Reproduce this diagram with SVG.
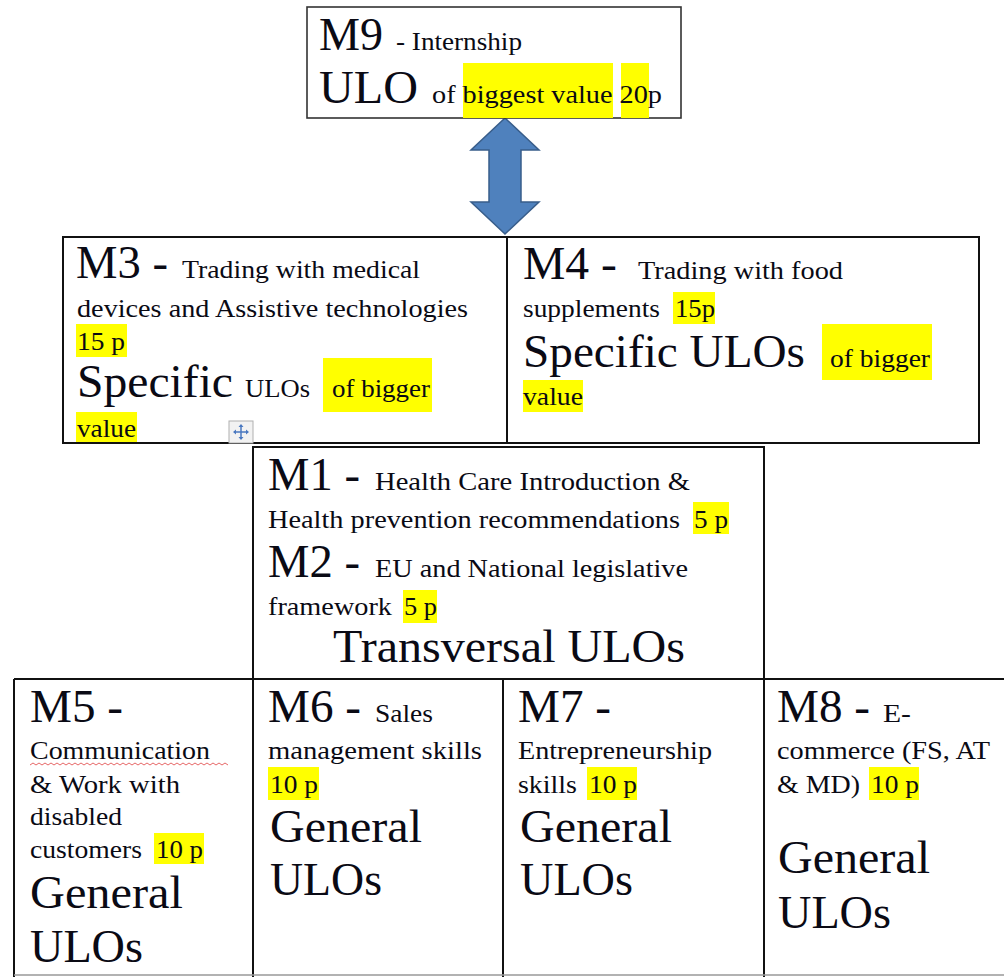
<svg xmlns="http://www.w3.org/2000/svg" width="1004" height="977" viewBox="0 0 1004 977">
<style>
text{font-family:"Liberation Serif","Times New Roman",serif;fill:#0a0a14}
.b{font-size:46px}
.s{font-size:26px}
.hl{fill:#ffff00}
.box{fill:#fff;stroke:#111;stroke-width:2}
.ln{stroke:#111;stroke-width:2;fill:none}
</style>
<rect width="1004" height="977" fill="#fff"/>

<g id="connectors">
<path d="M505,118 L539,150 L521,150 L521,202 L539,202 L505,234 L471,202 L489,202 L489,150 L471,150 Z" fill="#4f81bd" stroke="#385d8a" stroke-width="1.5"/>
</g>

<g id="m9">
<rect x="307" y="7" width="374" height="111" fill="#fff" stroke="#333" stroke-width="1.6"/>
<rect class="hl" x="463" y="63" width="150" height="55"/>
<rect class="hl" x="621" y="63" width="28" height="55"/>
<text class="b" x="319" y="50" font-size="44" textLength="64" lengthAdjust="spacingAndGlyphs">M9</text>
<text class="s" x="396" y="50" textLength="126" lengthAdjust="spacingAndGlyphs">- Internship</text>
<text class="b" x="319" y="103" textLength="99" lengthAdjust="spacingAndGlyphs">ULO</text>
<text class="s" x="432" y="103" textLength="230" lengthAdjust="spacingAndGlyphs">of biggest value 20p</text>
</g>

<g id="m3">
<rect class="box" x="63" y="237" width="444" height="206"/>
<rect class="hl" x="76" y="324" width="51" height="33"/>
<rect class="hl" x="323" y="358" width="109" height="54"/>
<rect class="hl" x="76" y="412" width="61" height="30"/>
<text class="b" x="76" y="278" textLength="92" lengthAdjust="spacingAndGlyphs">M3 -</text>
<text class="s" x="182" y="278" textLength="238" lengthAdjust="spacingAndGlyphs">Trading with medical</text>
<text class="s" x="77" y="317" textLength="391" lengthAdjust="spacingAndGlyphs">devices and Assistive technologies</text>
<text class="s" x="77" y="350" textLength="48" lengthAdjust="spacingAndGlyphs">15 p</text>
<text class="b" x="77" y="397" textLength="156" lengthAdjust="spacingAndGlyphs">Specific</text>
<text class="s" x="245" y="397" textLength="65" lengthAdjust="spacingAndGlyphs">ULOs</text>
<text class="s" x="332" y="397" textLength="98" lengthAdjust="spacingAndGlyphs">of bigger</text>
<text class="s" x="77" y="437" textLength="59" lengthAdjust="spacingAndGlyphs">value</text>
<g id="move-icon">
<rect x="229" y="421" width="24" height="22" fill="#f2f2f2" stroke="#b0b0b0" stroke-width="1"/>
<path d="M241,425 V439 M234,432 H248" stroke="#4a78c0" stroke-width="1.5"/>
<path d="M241,424 l-2.5,3 h5 Z M241,440 l-2.5,-3 h5 Z M233,432 l3,-2.5 v5 Z M249,432 l-3,-2.5 v5 Z" fill="#4a78c0"/>
</g>
</g>

<g id="m4">
<rect class="box" x="507" y="237" width="472" height="206"/>
<rect class="hl" x="673" y="292" width="42" height="32"/>
<rect class="hl" x="822" y="324" width="110" height="56"/>
<rect class="hl" x="523" y="380" width="60" height="32"/>
<text class="b" x="523" y="279" textLength="94" lengthAdjust="spacingAndGlyphs">M4 -</text>
<text class="s" x="638" y="279" textLength="205" lengthAdjust="spacingAndGlyphs">Trading with food</text>
<text class="s" x="523" y="317" textLength="137" lengthAdjust="spacingAndGlyphs">supplements</text>
<text class="s" x="675" y="317" textLength="40" lengthAdjust="spacingAndGlyphs">15p</text>
<text class="b" x="523" y="367" textLength="282" lengthAdjust="spacingAndGlyphs">Specific ULOs</text>
<text class="s" x="830" y="367" textLength="100" lengthAdjust="spacingAndGlyphs">of bigger</text>
<text class="s" x="523" y="405" textLength="60" lengthAdjust="spacingAndGlyphs">value</text>
</g>

<g id="m1m2">
<rect class="box" x="253" y="447" width="511" height="232"/>
<rect class="hl" x="693" y="502" width="36" height="32"/>
<rect class="hl" x="403" y="590" width="34" height="33"/>
<text class="b" x="268" y="490" textLength="92" lengthAdjust="spacingAndGlyphs">M1 -</text>
<text class="s" x="375" y="490" textLength="315" lengthAdjust="spacingAndGlyphs">Health Care Introduction &amp;</text>
<text class="s" x="268" y="528" textLength="412" lengthAdjust="spacingAndGlyphs">Health prevention recommendations</text>
<text class="s" x="694" y="528" textLength="34" lengthAdjust="spacingAndGlyphs">5 p</text>
<text class="b" x="268" y="577" textLength="92" lengthAdjust="spacingAndGlyphs">M2 -</text>
<text class="s" x="375" y="577" textLength="313" lengthAdjust="spacingAndGlyphs">EU and National legislative</text>
<text class="s" x="268" y="615" textLength="124" lengthAdjust="spacingAndGlyphs">framework</text>
<text class="s" x="404" y="615" textLength="33" lengthAdjust="spacingAndGlyphs">5 p</text>
<text class="b" x="333" y="662" textLength="352" lengthAdjust="spacingAndGlyphs">Transversal ULOs</text>
</g>

<g id="bottom-grid">
<path class="ln" d="M14,679 H1004 M14,679 V977 M253,679 V977 M503,679 V977 M764,679 V977"/>
<path d="M14,975 H1004" stroke="#999" stroke-width="1.5"/>
</g>

<g id="m5">
<rect class="hl" x="154" y="833" width="50" height="31"/>
<text class="b" x="30" y="722" textLength="93" lengthAdjust="spacingAndGlyphs">M5 -</text>
<text class="s" x="30" y="759" textLength="180" lengthAdjust="spacingAndGlyphs">Communication</text>
<path d="M30,765 l3,-2 l3,2 l3,-2 l3,2 l3,-2 l3,2 l3,-2 l3,2 l3,-2 l3,2 l3,-2 l3,2 l3,-2 l3,2 l3,-2 l3,2 l3,-2 l3,2 l3,-2 l3,2 l3,-2 l3,2 l3,-2 l3,2 l3,-2 l3,2 l3,-2 l3,2 l3,-2 l3,2 l3,-2 l3,2 l3,-2 l3,2 l3,-2 l3,2 l3,-2 l3,2 l3,-2 l3,2 l3,-2 l3,2 l3,-2 l3,2 l3,-2 l3,2 l3,-2 l3,2 l3,-2 l3,2 l3,-2 l3,2 l3,-2 l3,2 l3,-2 l3,2 l3,-2 l3,2 l3,-2 l3,2 l3,-2 l3,2 l3,-2 l3,2 l3,-2 l3,2" fill="none" stroke="#e04040" stroke-width="0.8"/>
<text class="s" x="30" y="793" textLength="150" lengthAdjust="spacingAndGlyphs">&amp; Work with</text>
<text class="s" x="30" y="825" textLength="92" lengthAdjust="spacingAndGlyphs">disabled</text>
<text class="s" x="30" y="858" textLength="112" lengthAdjust="spacingAndGlyphs">customers</text>
<text class="s" x="156" y="858" textLength="47" lengthAdjust="spacingAndGlyphs">10 p</text>
<text class="b" x="30" y="908" font-size="48" textLength="153" lengthAdjust="spacingAndGlyphs">General</text>
<text class="b" x="30" y="962" font-size="48" textLength="113" lengthAdjust="spacingAndGlyphs">ULOs</text>
</g>

<g id="m6">
<rect class="hl" x="268" y="767" width="51" height="33"/>
<text class="b" x="268" y="722" textLength="93" lengthAdjust="spacingAndGlyphs">M6 -</text>
<text class="s" x="375" y="722" textLength="58" lengthAdjust="spacingAndGlyphs">Sales</text>
<text class="s" x="268" y="759" textLength="214" lengthAdjust="spacingAndGlyphs">management skills</text>
<text class="s" x="270" y="793" textLength="48" lengthAdjust="spacingAndGlyphs">10 p</text>
<text class="b" x="270" y="842" font-size="48" textLength="152" lengthAdjust="spacingAndGlyphs">General</text>
<text class="b" x="270" y="895" font-size="48" textLength="112" lengthAdjust="spacingAndGlyphs">ULOs</text>
</g>

<g id="m7">
<rect class="hl" x="587" y="767" width="50" height="33"/>
<text class="b" x="518" y="722" textLength="93" lengthAdjust="spacingAndGlyphs">M7 -</text>
<text class="s" x="518" y="759" textLength="194" lengthAdjust="spacingAndGlyphs">Entrepreneurship</text>
<text class="s" x="518" y="793" textLength="59" lengthAdjust="spacingAndGlyphs">skills</text>
<text class="s" x="589" y="793" textLength="48" lengthAdjust="spacingAndGlyphs">10 p</text>
<text class="b" x="520" y="842" font-size="48" textLength="152" lengthAdjust="spacingAndGlyphs">General</text>
<text class="b" x="520" y="895" font-size="48" textLength="113" lengthAdjust="spacingAndGlyphs">ULOs</text>
</g>

<g id="m8">
<rect class="hl" x="869" y="767" width="50" height="33"/>
<text class="b" x="777" y="722" textLength="93" lengthAdjust="spacingAndGlyphs">M8 -</text>
<text class="s" x="883" y="722" textLength="28" lengthAdjust="spacingAndGlyphs">E-</text>
<text class="s" x="777" y="759" textLength="213" lengthAdjust="spacingAndGlyphs">commerce (FS, AT</text>
<text class="s" x="777" y="793" textLength="83" lengthAdjust="spacingAndGlyphs">&amp; MD)</text>
<text class="s" x="871" y="793" textLength="48" lengthAdjust="spacingAndGlyphs">10 p</text>
<text class="b" x="778" y="873" font-size="48" textLength="152" lengthAdjust="spacingAndGlyphs">General</text>
<text class="b" x="778" y="928" font-size="48" textLength="113" lengthAdjust="spacingAndGlyphs">ULOs</text>
</g>
</svg>
